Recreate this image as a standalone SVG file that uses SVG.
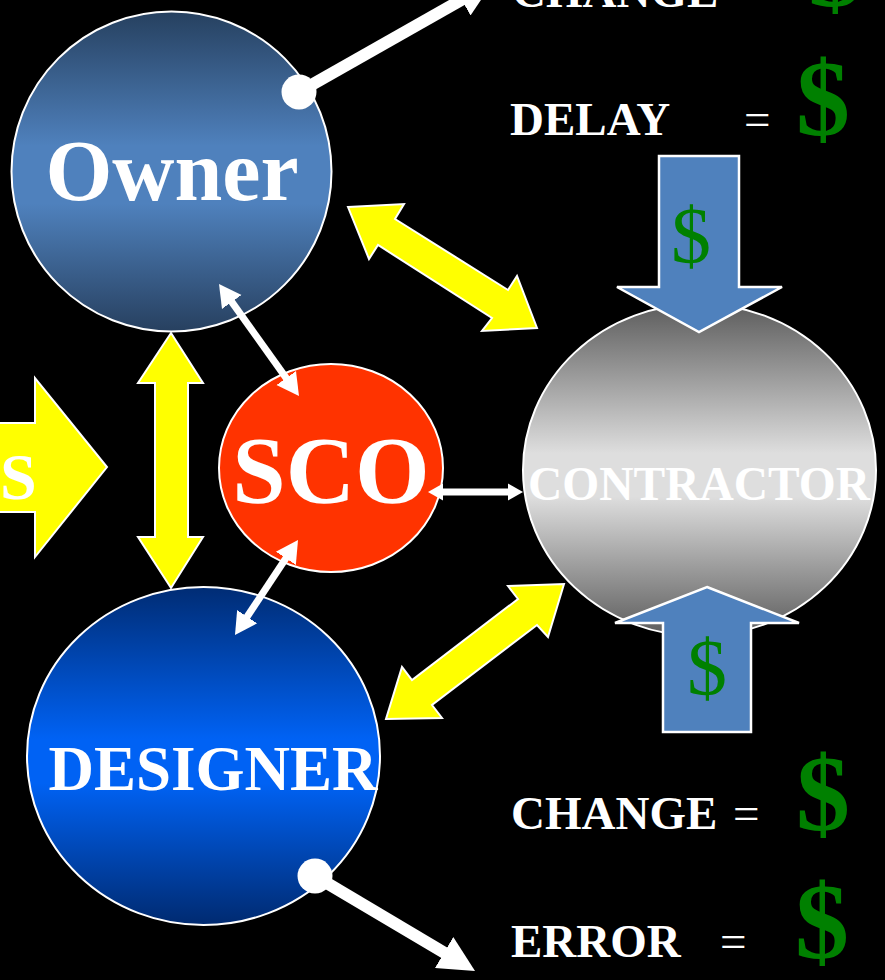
<svg xmlns="http://www.w3.org/2000/svg" width="885" height="980" viewBox="0 0 885 980">
  <style>
    .lbl { font-family: "Liberation Serif", "Times New Roman", serif; font-weight: bold; fill: #ffffff; }
    .eq { font-family: "Liberation Serif", "Times New Roman", serif; font-weight: normal; fill: #ffffff; }
    .cash { font-family: "Liberation Serif", "Times New Roman", serif; fill: #008000; }
    .big { font-weight: bold; }
    .ring { stroke: #ffffff; stroke-width: 2; }
    .yel { fill: #ffff00; stroke: #ffffff; stroke-width: 2; stroke-linejoin: miter; }
    .blu { fill: #4f81bd; stroke: #ffffff; stroke-width: 2.5; }
    .wline { stroke: #ffffff; fill: none; }
  </style>
  <defs>
    <linearGradient id="gOwner" x1="0" y1="0" x2="0" y2="1">
      <stop offset="0" stop-color="#26405f"/>
      <stop offset="0.42" stop-color="#4f81bd"/>
      <stop offset="0.6" stop-color="#4f81bd"/>
      <stop offset="1" stop-color="#27405f"/>
    </linearGradient>
    <linearGradient id="gDesigner" x1="0" y1="0" x2="0" y2="1">
      <stop offset="0" stop-color="#002c74"/>
      <stop offset="0.45" stop-color="#0062f4"/>
      <stop offset="0.58" stop-color="#0062f4"/>
      <stop offset="1" stop-color="#002a70"/>
    </linearGradient>
    <linearGradient id="gContractor" x1="0" y1="0" x2="0" y2="1">
      <stop offset="0" stop-color="#5c5c5c"/>
      <stop offset="0.45" stop-color="#dedede"/>
      <stop offset="0.58" stop-color="#dedede"/>
      <stop offset="1" stop-color="#5c5c5c"/>
    </linearGradient>
    <marker id="headBig" markerUnits="userSpaceOnUse" viewBox="0 0 38 36" markerWidth="38" markerHeight="36" refX="2" refY="18" orient="auto-start-reverse">
      <path d="M0,0 L36,18 L0,36 z" fill="#ffffff"/>
    </marker>
    <marker id="headMid" markerUnits="userSpaceOnUse" viewBox="0 0 24 26" markerWidth="24" markerHeight="26" refX="1" refY="13" orient="auto-start-reverse">
      <path d="M0,1 L22,13 L0,25 z" fill="#ffffff"/>
    </marker>
    <marker id="headSmall" markerUnits="userSpaceOnUse" viewBox="0 0 17 18" markerWidth="17" markerHeight="18" refX="1" refY="9" orient="auto-start-reverse">
      <path d="M0,0.5 L15,9 L0,17.5 z" fill="#ffffff"/>
    </marker>
  </defs>

  <rect x="0" y="0" width="885" height="980" fill="#000000"/>

  <!-- incoming arrow at the left edge -->
  <g id="input-arrow">
    <polygon class="yel" points="-10,423 35,423 35,378 107,467 35,557 35,512 -10,512"/>
    <text class="lbl" x="0" y="499" font-size="66">S</text>
  </g>

  <g id="owner">
    <circle class="ring" cx="171.5" cy="171.5" r="160" fill="url(#gOwner)"/>
    <text class="lbl" x="172" y="200" font-size="86" text-anchor="middle">Owner</text>
  </g>

  <g id="designer">
    <ellipse class="ring" cx="203.5" cy="756" rx="176.5" ry="169" fill="url(#gDesigner)"/>
    <text class="lbl" x="213" y="790" font-size="63" text-anchor="middle">DESIGNER</text>
  </g>

  <g id="contractor">
    <ellipse class="ring" cx="699.5" cy="470" rx="176.5" ry="166" fill="url(#gContractor)"/>
    <text class="lbl" x="699" y="500" font-size="47.5" text-anchor="middle">CONTRACTOR</text>
  </g>

  <g id="sco">
    <ellipse class="ring" cx="331" cy="468" rx="112" ry="104" fill="#ff3300"/>
    <text class="lbl" x="331" y="503" font-size="96" text-anchor="middle">SCO</text>
  </g>

  <!-- cost inflows into the contractor -->
  <g id="cost-down">
    <polygon class="blu" points="659,156 739,156 739,287 782,287 699,332 617,287 659,287"/>
    <text class="cash" x="691" y="263" font-size="80" text-anchor="middle">$</text>
  </g>
  <g id="cost-up">
    <polygon class="blu" points="707,587 799,623 751,623 751,732 663,732 663,623 615,623"/>
    <text class="cash" x="707" y="695" font-size="80" text-anchor="middle">$</text>
  </g>

  <g id="connectors">
    <!-- block arrows between the parties -->
    <polygon class="yel" points="348,207 404,204 395,219 508,290 517,276 537,328 482,331 492,318 378,245 369,259"/>
    <polygon class="yel" points="564,584 548,637 537,625 432,705 442,718 386,719 402,667 412,680 518,599 508,586"/>
    <polygon class="yel" points="171,333 203,383 188,383 188,537 203,537 171,588 138,537 155,537 155,383 138,383"/>

    <!-- thin two-way links through the SCO -->
    <line class="wline" x1="231.2" y1="301.1" x2="286.8" y2="378.9" stroke-width="7" marker-start="url(#headMid)" marker-end="url(#headMid)"/>
    <line class="wline" x1="286.4" y1="557.5" x2="246.6" y2="617.5" stroke-width="7" marker-start="url(#headMid)" marker-end="url(#headMid)"/>
    <line class="wline" x1="442" y1="492" x2="509" y2="492" stroke-width="7" marker-start="url(#headSmall)" marker-end="url(#headSmall)"/>

    <!-- outgoing leaders to the cost notes -->
    <line class="wline" x1="299" y1="92" x2="463.4" y2="-1.2" stroke-width="12" marker-end="url(#headBig)"/>
    <circle cx="299" cy="92" r="17.5" fill="#ffffff"/>
    <line class="wline" x1="315" y1="876" x2="445.8" y2="953.6" stroke-width="12" marker-end="url(#headBig)"/>
    <circle cx="315" cy="876" r="17.5" fill="#ffffff"/>
  </g>

  <!-- cost notes -->
  <g id="notes">
    <text class="lbl" x="512" y="7" font-size="47">CHANGE</text>
    <text class="eq" x="757" y="7" font-size="47">=</text>
    <text class="cash big" x="835" y="6" font-size="108" text-anchor="middle">$</text>

    <text class="lbl" x="510" y="135" font-size="47">DELAY</text>
    <text class="eq" x="744" y="135" font-size="47">=</text>
    <text class="cash big" x="823" y="135" font-size="108" text-anchor="middle">$</text>

    <text class="lbl" x="511" y="829" font-size="47">CHANGE</text>
    <text class="eq" x="733" y="829" font-size="47">=</text>
    <text class="cash big" x="823" y="830" font-size="108" text-anchor="middle">$</text>

    <text class="lbl" x="511" y="957" font-size="47">ERROR</text>
    <text class="eq" x="720" y="957" font-size="47">=</text>
    <text class="cash big" x="822" y="958" font-size="108" text-anchor="middle">$</text>
  </g>
</svg>
